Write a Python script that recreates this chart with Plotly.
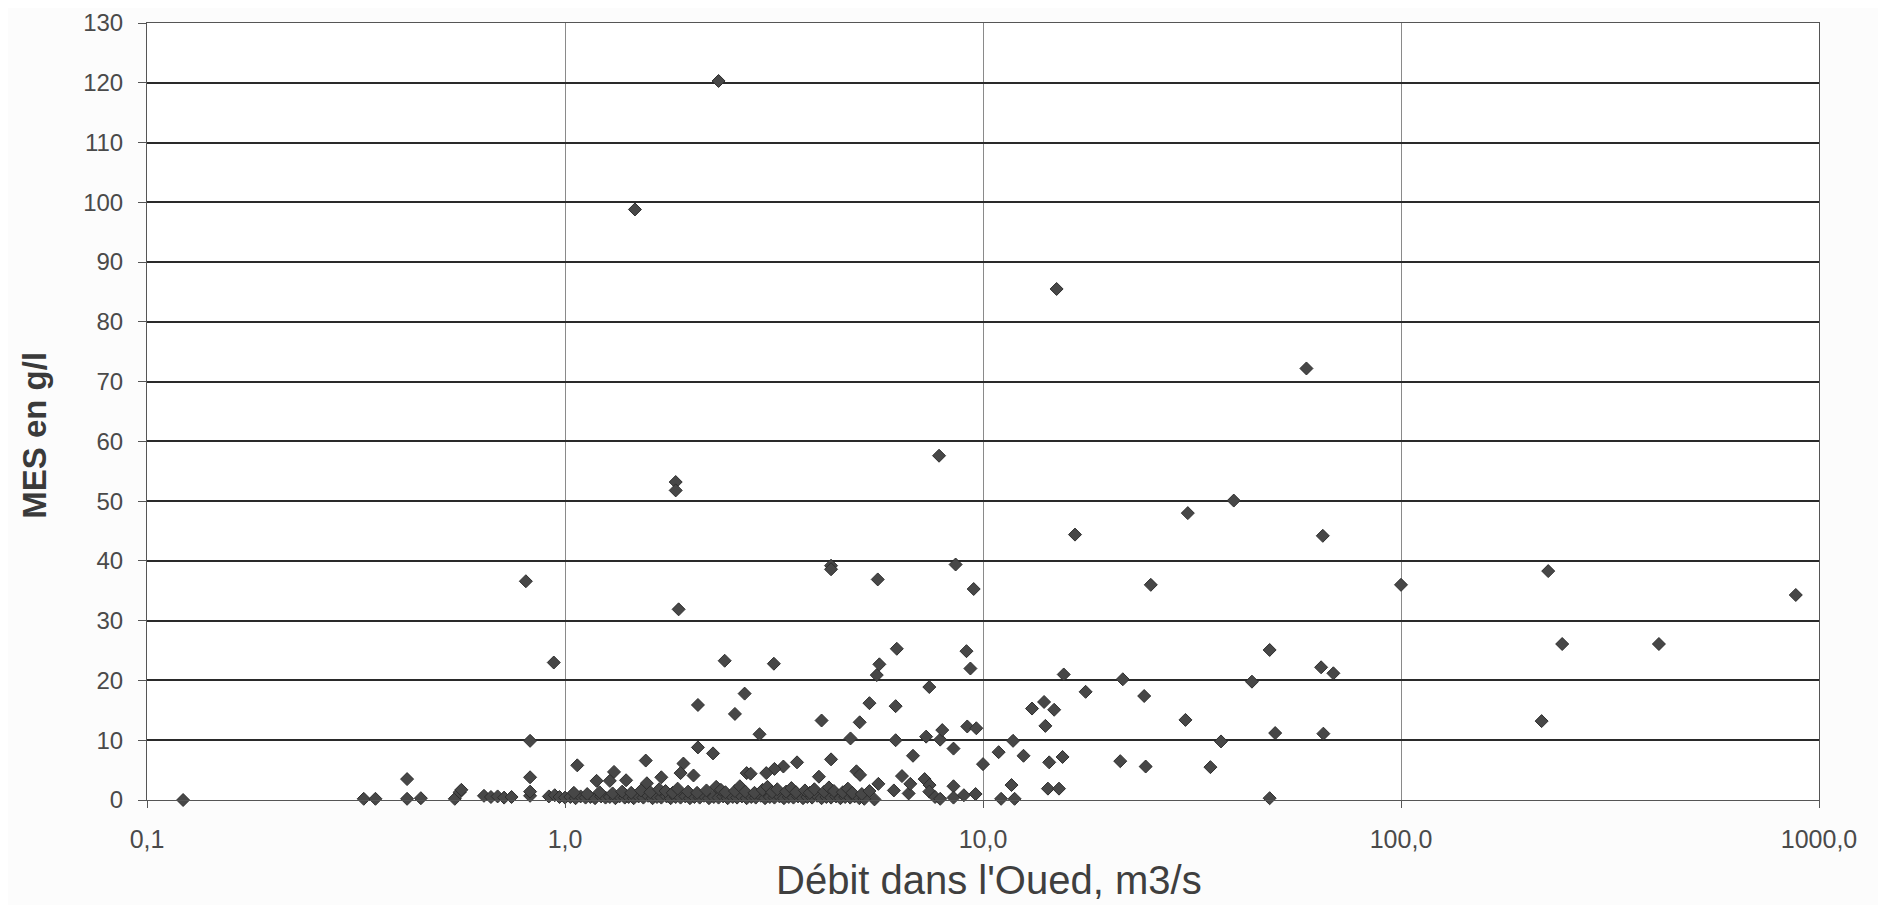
import plotly.graph_objects as go

# Débit (m3/s) et MES (g/l)
debit_outliers = [2.33, 1.47, 15.0, 59.4, 7.85, 1.84, 1.84, 16.6, 30.9, 39.8, 65.0,
                  0.806, 1.87, 4.33, 4.33, 5.6, 8.6, 9.5, 25.2, 100.0, 225.0, 880.0,
                  243.0, 414.0, 217.0]
mes_outliers = [120.3, 98.8, 85.5, 72.2, 57.6, 53.2, 51.8, 44.4, 48.0, 50.1, 44.2,
                36.6, 31.9, 39.2, 38.6, 36.9, 39.4, 35.3, 36.0, 36.0, 38.3, 34.3,
                26.1, 26.1, 13.2]

debit_high = [15.6, 17.6, 13.1, 14.0, 14.8, 14.1, 11.8, 10.9, 12.5, 14.4, 15.5, 11.7,
              14.3, 15.2, 11.05, 11.9, 21.6, 24.3, 30.5, 21.3, 24.5, 35.0, 37.1, 44.0,
              48.5, 50.0, 48.5, 64.4, 68.9, 65.2]
mes_high = [21.0, 18.1, 15.3, 16.4, 15.1, 12.4, 9.9, 8.0, 7.4, 6.3, 7.2, 2.5,
            1.9, 1.9, 0.2, 0.2, 20.2, 17.4, 13.4, 6.5, 5.6, 5.5, 9.8, 19.8,
            25.1, 11.2, 0.3, 22.2, 21.2, 11.1]

debit_mid = [0.94, 2.41, 3.16, 6.22, 5.65, 5.57, 9.13, 9.33, 7.44, 2.08, 2.69, 2.55,
             2.92, 2.08, 2.26, 4.11, 5.07, 4.82, 5.35, 6.18, 6.18, 7.31, 7.9, 7.99,
             8.5, 9.17, 9.64, 6.8, 10.0, 4.33, 3.59, 3.33, 3.17, 3.03, 2.72, 2.78,
             1.92, 1.89, 2.03, 1.56, 1.70, 1.57, 1.31, 1.28, 1.19, 1.40, 1.07, 4.05,
             4.98, 5.08, 5.62, 6.4, 6.12, 6.64, 6.7, 7.25, 7.45, 7.44, 7.68, 7.9,
             8.5, 8.5, 9.0, 9.6, 5.5]
mes_mid = [23.0, 23.3, 22.8, 25.3, 22.7, 20.9, 24.9, 22.0, 18.9, 15.9, 17.8, 14.4,
           11.0, 8.8, 7.8, 13.3, 13.0, 10.3, 16.2, 15.7, 10.0, 10.6, 10.1, 11.7,
           8.6, 12.3, 12.0, 7.4, 6.0, 6.8, 6.3, 5.6, 5.2, 4.5, 4.5, 4.4,
           6.1, 4.5, 4.1, 6.6, 3.8, 2.8, 4.7, 3.2, 3.2, 3.3, 5.8, 3.9,
           4.8, 4.2, 2.7, 4.0, 1.6, 1.1, 2.7, 3.5, 2.5, 1.4, 0.5, 0.2,
           2.3, 0.4, 0.8, 1.0, 0.1]

debit_low = [0.122, 0.33, 0.352, 0.419, 0.419, 0.452, 0.545, 0.56, 0.565, 0.64, 0.665,
             0.69, 0.715, 0.745, 0.825, 0.825, 0.825, 0.825, 0.915, 0.945, 0.97]
mes_low = [0.0, 0.2, 0.2, 3.5, 0.2, 0.3, 0.2, 1.3, 1.7, 0.7, 0.5,
           0.6, 0.4, 0.5, 9.9, 3.8, 0.7, 1.4, 0.6, 0.8, 0.5]

# bande dense près de zéro
debit_band = [1.00, 1.03, 1.06, 1.09, 1.12, 1.15, 1.18, 1.22, 1.25, 1.28, 1.32, 1.35,
              1.39, 1.42, 1.46, 1.50, 1.54, 1.58, 1.62, 1.66, 1.70, 1.75, 1.79, 1.84,
              1.89, 1.94, 1.99, 2.04, 2.10, 2.15, 2.21, 2.27, 2.33, 2.39, 2.45, 2.52,
              2.58, 2.65, 2.72, 2.79, 2.86, 2.94, 3.01, 3.09, 3.17, 3.26, 3.34, 3.43,
              3.52, 3.61, 3.71, 3.80, 3.90, 4.01, 4.11, 4.22, 4.33, 4.45, 4.56, 4.68,
              4.81, 4.93, 5.06, 5.20,
              1.05, 1.13, 1.21, 1.30, 1.37, 1.44, 1.52, 1.60, 1.68, 1.74, 1.81, 1.86,
              1.97, 2.07, 2.18, 2.30, 2.36, 2.42, 2.55, 2.62, 2.70, 2.84, 2.97, 3.05,
              3.13, 3.22, 3.38, 3.48, 3.57, 3.75, 3.85, 3.95, 4.17, 4.28, 4.40, 4.62,
              4.75, 4.87, 5.13, 5.35]
mes_band = [0.4, 0.5, 0.3, 0.6, 0.4, 0.5, 0.3, 0.6, 0.4, 0.5, 0.3, 0.6,
            0.4, 0.5, 0.3, 0.6, 0.4, 0.7, 0.3, 0.5, 0.4, 0.6, 0.3, 0.5,
            0.4, 0.6, 0.3, 0.5, 0.4, 0.7, 0.3, 0.5, 0.4, 0.6, 0.3, 0.5,
            0.4, 0.6, 0.3, 0.5, 0.4, 0.7, 0.3, 0.5, 0.4, 0.6, 0.3, 0.5,
            0.4, 0.6, 0.3, 0.5, 0.4, 0.7, 0.3, 0.5, 0.4, 0.6, 0.3, 0.5,
            0.4, 0.6, 0.3, 0.2,
            1.2, 1.0, 1.3, 1.1, 1.4, 1.2, 1.6, 1.3, 1.8, 1.5, 1.2, 1.9,
            1.4, 1.2, 1.6, 2.2, 1.7, 1.3, 1.5, 2.3, 1.4, 1.2, 1.7, 2.2,
            1.3, 1.8, 1.4, 2.0, 1.3, 1.6, 1.2, 1.8, 1.4, 2.1, 1.5, 1.3,
            1.9, 1.2, 1.0, 1.5]

x_ticks = [0.1, 1, 10, 100, 1000]
x_ticktext = ["0,1", "1,0", "10,0", "100,0", "1000,0"]
y_ticks = list(range(0, 131, 10))

debit = debit_outliers + debit_high + debit_mid + debit_low + debit_band
mes = mes_outliers + mes_high + mes_mid + mes_low + mes_band

FONT = "Liberation Sans, Arial, sans-serif"
TXT = "#4a4a4a"

fig = go.Figure()
fig.add_scatter(
    x=debit, y=mes, mode="markers",
    marker=dict(symbol="diamond", size=10, color="#474747",
                line=dict(width=1, color="#2e2e2e")),
    cliponaxis=False, showlegend=False,
)

fig.update_xaxes(
    type="log", range=[-1, 3], automargin=False,
    tickvals=x_ticks, ticktext=x_ticktext,
    showgrid=True, gridcolor="#8a8a8a", gridwidth=1,
    showline=True, linecolor="#555", linewidth=1, mirror=True,
    ticks="outside", ticklen=7, tickcolor="#555",
    ticklabelstandoff=10, ticklabeloverflow="allow",
    tickfont=dict(family=FONT, size=25, color=TXT),
    zeroline=False,
)
fig.update_yaxes(
    range=[0, 130], tickvals=y_ticks, automargin=False,
    showgrid=True, gridcolor="#2a2a2a", gridwidth=1.5,
    showline=True, linecolor="#555", linewidth=1, mirror=True,
    ticks="outside", ticklen=8, tickcolor="#555",
    ticklabelstandoff=10, ticklabeloverflow="allow",
    tickfont=dict(family=FONT, size=24, color=TXT),
    zeroline=False,
)

fig.add_annotation(
    text="Débit dans l'Oued, m3/s", xref="paper", yref="paper",
    x=0.5036, y=-0.134, xanchor="center", yanchor="bottom", showarrow=False,
    font=dict(family=FONT, size=40, color="#3f3f3f"),
)
fig.add_annotation(
    text="<b>MES en g/l</b>", xref="paper", yref="paper",
    x=-0.067, y=0.47, xanchor="center", yanchor="middle", showarrow=False,
    textangle=-90, font=dict(family=FONT, size=33, color="#3a3a3a"),
)

# la page ajoute 8 px de marge autour de la figure
fig.update_layout(
    width=1870, height=897,
    margin=dict(l=139, r=59, t=15, b=105),
    paper_bgcolor="#fcfcfc", plot_bgcolor="#ffffff",
)

fig.write_html("out.html")
